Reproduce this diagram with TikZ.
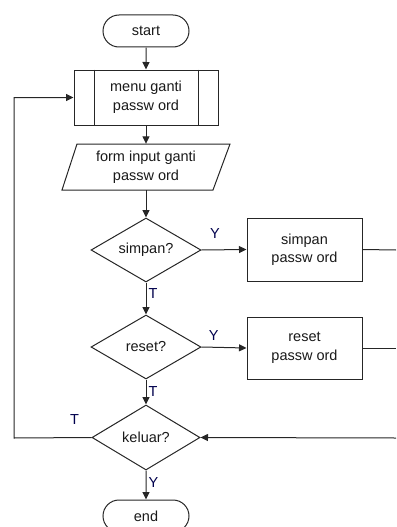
\documentclass[tikz,border=0pt]{standalone}
\usepackage{fontspec}
\setmainfont{Liberation Sans}
\usetikzlibrary{shapes.geometric,shapes.misc,arrows.meta}
\begin{document}
\begin{tikzpicture}[x=1pt,y=-1pt,
  every node/.style={font=\fontsize{14.5}{18.5}\selectfont, text=black!90},
  line/.style={draw=black!85, line width=1pt},
  arr/.style={line, -{Triangle[length=7.5pt,width=7pt]}},
  term/.style={line, rounded rectangle, minimum width=86pt, minimum height=32pt, inner sep=0pt},
  proc/.style={line, rectangle, minimum width=115pt, minimum height=63pt, align=center, inner sep=0pt},
  dec/.style={line, diamond, minimum width=110pt, minimum height=64pt, aspect=1.7, inner sep=0pt},
  lbl/.style={font=\fontsize{14.5}{16}\selectfont, text=blue!30!black, inner sep=2pt}
]
\useasboundingbox (0,0) rectangle (396,527);
\begin{scope}
\clip (0,0) rectangle (396,527);
\node[term] (start) at (146,31) {start};
\node[line, rectangle, minimum width=144pt, minimum height=55pt, align=center, inner sep=0pt] (menu) at (146,97.5) {menu ganti\\passw ord};
\draw[line] ([xshift=21pt]menu.north west) -- ([xshift=21pt]menu.south west);
\draw[line] ([xshift=-20pt]menu.north east) -- ([xshift=-20pt]menu.south east);
\node[minimum width=150pt, minimum height=46pt, align=center, inner sep=0pt] (form) at (146,167) {form input ganti\\passw ord};
\draw[line] (77,144) -- (230,144) -- (213,190) -- (62,190) -- cycle;
\node[dec] (simpan) at (146,250) {simpan?};
\node[proc] (sbox) at (304.5,249.5) {simpan\\passw ord};
\node[dec] (reset) at (146,347) {reset?};
\node[proc, minimum height=62pt] (rbox) at (304.5,348) {reset\\passw ord};
\node[dec, minimum width=108pt, minimum height=65pt] (keluar) at (146,437.5) {keluar?};
\node[term] (end) at (146,516) {end};

\coordinate (sout) at (396,250);
\coordinate (rout) at (396,348);
\coordinate (kin) at (396,438);
\coordinate (lb) at (14,438);
\coordinate (lt) at (14,97.5);

\draw[arr] (start) -- (menu);
\draw[arr] (menu) -- (form.north);
\draw[arr] (form.south) -- (simpan);
\draw[arr] (simpan) -- node[lbl, pos=0.35, right] {T} (reset);
\draw[arr] (reset) -- node[lbl, pos=0.5, right] {T} (keluar);
\draw[arr] (keluar) -- node[lbl, pos=0.4, right] {Y} (end);
\draw[arr] (simpan.east) -- node[lbl, pos=0.3, above=9pt] {Y} (sbox.west);
\draw[arr] (reset.east) -- node[lbl, pos=0.27, above=4pt] {Y} (rbox.west);
\draw[line] (sbox.east) -- (sout);
\draw[line] (rbox.east) -- (rout);
\draw[arr] (kin) -- (keluar.east);
\draw[arr] (keluar.west) -- node[lbl, pos=0.22, above=11pt] {T} (lb) -- (lt) -- (menu.west);
\end{scope}
\end{tikzpicture}
\end{document}
